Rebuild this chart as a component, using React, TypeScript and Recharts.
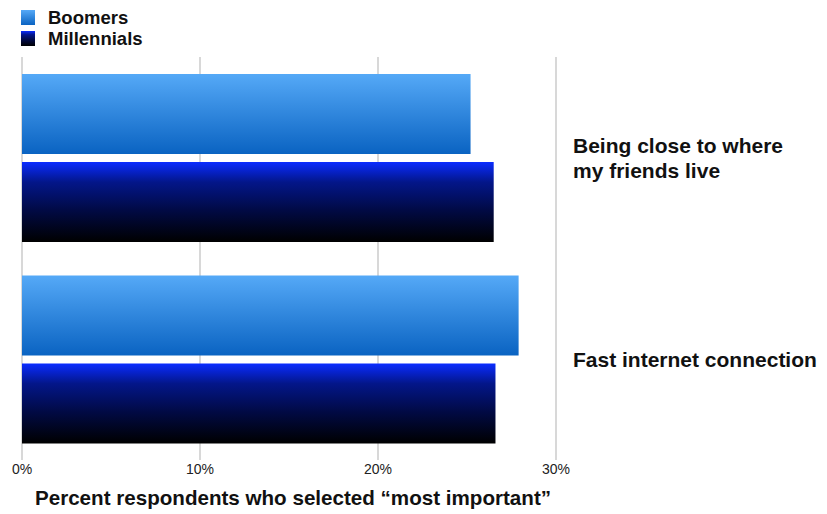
import React from "react";
import {
  BarChart,
  Bar,
  XAxis,
  YAxis,
  CartesianGrid,
  Legend,
} from "recharts";

const CATEGORIES = ["Being close to where\nmy friends live", "Fast internet connection"];
const BOOMERS = [25.2, 27.9];
const MILLENNIALS = [26.5, 26.6];
const X_TICKS = [0, 10, 20, 30];

const FONT = "'Liberation Sans', Arial, Helvetica, sans-serif";

const data = CATEGORIES.map((name, i) => ({
  name,
  Boomers: BOOMERS[i],
  Millennials: MILLENNIALS[i],
}));

const LEGEND = [
  { key: "Boomers", bg: "linear-gradient(#55a9f7, #0a63c2)" },
  { key: "Millennials", bg: "linear-gradient(#0a2cff 0%, #03168a 25%, #010a45 60%, #000 100%)" },
];

function LegendBox() {
  return (
    <div style={{ fontFamily: FONT, fontSize: 18.5, fontWeight: "bold", color: "#111" }}>
      {LEGEND.map((l) => (
        <div key={l.key} style={{ display: "flex", alignItems: "center", height: 21 }}>
          <span
            style={{ display: "inline-block", width: 14, height: 15, background: l.bg, marginRight: 13 }}
          />
          {l.key}
        </div>
      ))}
    </div>
  );
}

// right-side category labels, split on \n
function CategoryTick(props: any) {
  const { x, y, payload } = props;
  const lines = String(payload.value).split("\n");
  const lh = 25;
  const start = y - ((lines.length - 1) * lh) / 2;
  return (
    <text
      x={x}
      y={start}
      fill="#111"
      fontSize={21}
      fontWeight="bold"
      fontFamily={FONT}
      textAnchor="start"
    >
      {lines.map((ln, i) => (
        <tspan key={i} x={x} y={start + i * lh} dy="0.36em">
          {ln}
        </tspan>
      ))}
    </text>
  );
}

export default function App() {
  return (
    <div style={{ position: "absolute", left: 0, top: 0, width: 827, height: 514, background: "#fff" }}>
      <BarChart
        width={827}
        height={514}
        data={data}
        layout="vertical"
        margin={{ top: 57, right: 0, left: 22, bottom: 0 }}
        barCategoryGap={17}
        barGap={8}
      >
        <defs>
          <linearGradient id="gBoomers" x1="0" y1="0" x2="0" y2="1">
            <stop offset="0%" stopColor="#55a9f7" />
            <stop offset="100%" stopColor="#0a63c2" />
          </linearGradient>
          <linearGradient id="gMillennials" x1="0" y1="0" x2="0" y2="1">
            <stop offset="0%" stopColor="#0a2cff" />
            <stop offset="25%" stopColor="#03168a" />
            <stop offset="60%" stopColor="#010a45" />
            <stop offset="100%" stopColor="#000000" />
          </linearGradient>
        </defs>
        <CartesianGrid horizontal={false} stroke="#d8d8d8" strokeWidth={2} />
        <XAxis
          type="number"
          domain={[0, 30]}
          ticks={X_TICKS}
          tickFormatter={(v) => `${v}%`}
          axisLine={false}
          tickLine={false}
          tickSize={0}
          tickMargin={4}
          height={54}
          tick={{ fontSize: 14, fill: "#222", fontFamily: FONT }}
          label={{
            value: "Percent respondents who selected \u201cmost important\u201d",
            position: "insideBottom",
            offset: 9,
            dx: 4,
            fill: "#111",
            fontSize: 20.6,
            fontWeight: "bold",
            fontFamily: FONT,
          }}
        />
        <YAxis
          yAxisId="left"
          type="category"
          dataKey="name"
          width={0}
          tick={false}
          tickLine={false}
          axisLine={{ stroke: "#000", strokeWidth: 2.5 }}
        />
        <YAxis
          yAxisId="right"
          orientation="right"
          type="category"
          dataKey="name"
          width={271}
          axisLine={false}
          tickLine={false}
          tickSize={0}
          tickMargin={17}
          tick={<CategoryTick />}
        />
        <Legend
          layout="horizontal"
          verticalAlign="middle"
          align="center"
          content={<LegendBox />}
          wrapperStyle={{ top: 7, left: 21, width: 200, height: 44 }}
        />
        <Bar yAxisId="left" dataKey="Boomers" fill="url(#gBoomers)" isAnimationActive={false} />
        <Bar yAxisId="left" dataKey="Millennials" fill="url(#gMillennials)" isAnimationActive={false} />
      </BarChart>
    </div>
  );
}
